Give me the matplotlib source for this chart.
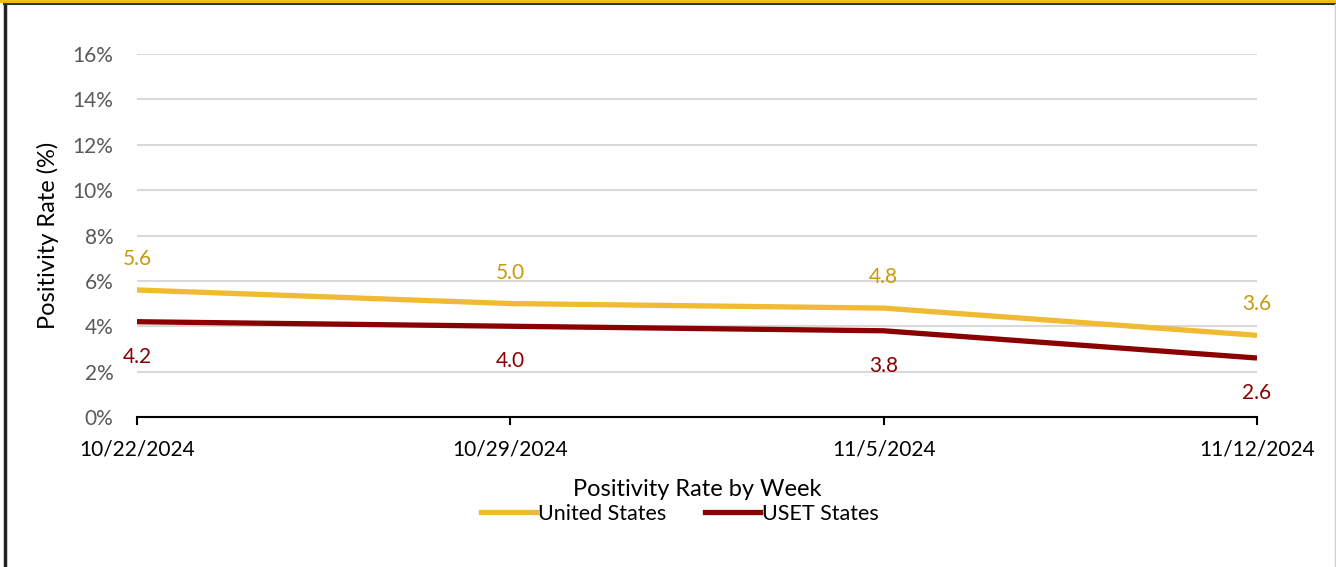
import matplotlib
matplotlib.use("Agg")
import matplotlib.pyplot as plt
from matplotlib.lines import Line2D
from matplotlib.ticker import FuncFormatter

# data
weeks = ["10/22/2024", "10/29/2024", "11/5/2024", "11/12/2024"]
us_rate = [5.6, 5.0, 4.8, 3.6]
uset_rate = [4.2, 4.0, 3.8, 2.6]

us_color = "#F0BA32"
us_text = "#C89A10"
uset_color = "#8B0000"

plt.rcParams["font.family"] = ["Lato", "DejaVu Sans"]

W, H = 1336, 567
fig = plt.figure(figsize=(W / 100, H / 100), dpi=100)
ax = fig.add_axes([137 / W, 1 - 417 / H, (1257 - 137) / W, (417 - 54) / H])

x = range(len(weeks))
ax.plot(x, us_rate, color=us_color, lw=3.8, solid_capstyle="butt", label="United States", zorder=3)
ax.plot(x, uset_rate, color=uset_color, lw=3.8, solid_capstyle="butt", label="USET States", zorder=3)

# data labels
for i, v in enumerate(us_rate):
    ax.annotate(f"{v:.1f}", (i, v), xytext=(0, 15), textcoords="offset points",
                ha="center", va="bottom", color=us_text, fontsize=15)
for i, v in enumerate(uset_rate):
    ax.annotate(f"{v:.1f}", (i, v), xytext=(0, -18), textcoords="offset points",
                ha="center", va="top", color=uset_color, fontsize=15)

ax.set_xlim(0, len(weeks) - 1)
ax.set_ylim(0, 16)
ax.set_yticks(range(0, 17, 2))
ax.yaxis.set_major_formatter(FuncFormatter(lambda v, p: f"{v:.0f}%"))
ax.set_xticks(list(x))
ax.set_xticklabels(weeks)
ax.grid(axis="y", color="#D9D9D9", lw=1.5)
ax.set_axisbelow(True)

for s in ["top", "right", "left"]:
    ax.spines[s].set_visible(False)
ax.spines["bottom"].set_color("black")
ax.spines["bottom"].set_linewidth(1.5)
ax.spines["bottom"].set_zorder(4)

ax.tick_params(axis="y", length=0, pad=17, labelsize=15, labelcolor="#595959")
ax.tick_params(axis="x", length=6, width=1.5, direction="out", pad=10, labelsize=15, labelcolor="black")

ax.set_ylabel("Positivity Rate (%)", fontsize=17, labelpad=10)
ax.set_xlabel("Positivity Rate by Week", fontsize=17, labelpad=14)

handles = [Line2D([], [], color=us_color, lw=3.8), Line2D([], [], color=uset_color, lw=3.8)]
fig.legend(handles, ["United States", "USET States"], loc="center", bbox_to_anchor=(680 / W, 1 - 514 / H),
           ncol=2, frameon=False, fontsize=15.5, handlelength=2.55, handletextpad=0.1, columnspacing=1.8,
           borderpad=0)

# outer frame
fig.add_artist(Line2D([5 / W, 5 / W], [0, 1 - 4 / H], transform=fig.transFigure, color="#222222", lw=2.5))
fig.add_artist(Line2D([4 / W, 1], [1 - 4 / H, 1 - 4 / H], transform=fig.transFigure, color="#333333", lw=1.5))
fig.add_artist(Line2D([0, 1], [1 - 1 / H, 1 - 1 / H], transform=fig.transFigure, color="#F5B800", lw=2))
fig.add_artist(Line2D([1 - 1 / W, 1 - 1 / W], [0, 1 - 4 / H], transform=fig.transFigure, color="#D0D0D0", lw=1))

fig.savefig("out.png", dpi=100)
